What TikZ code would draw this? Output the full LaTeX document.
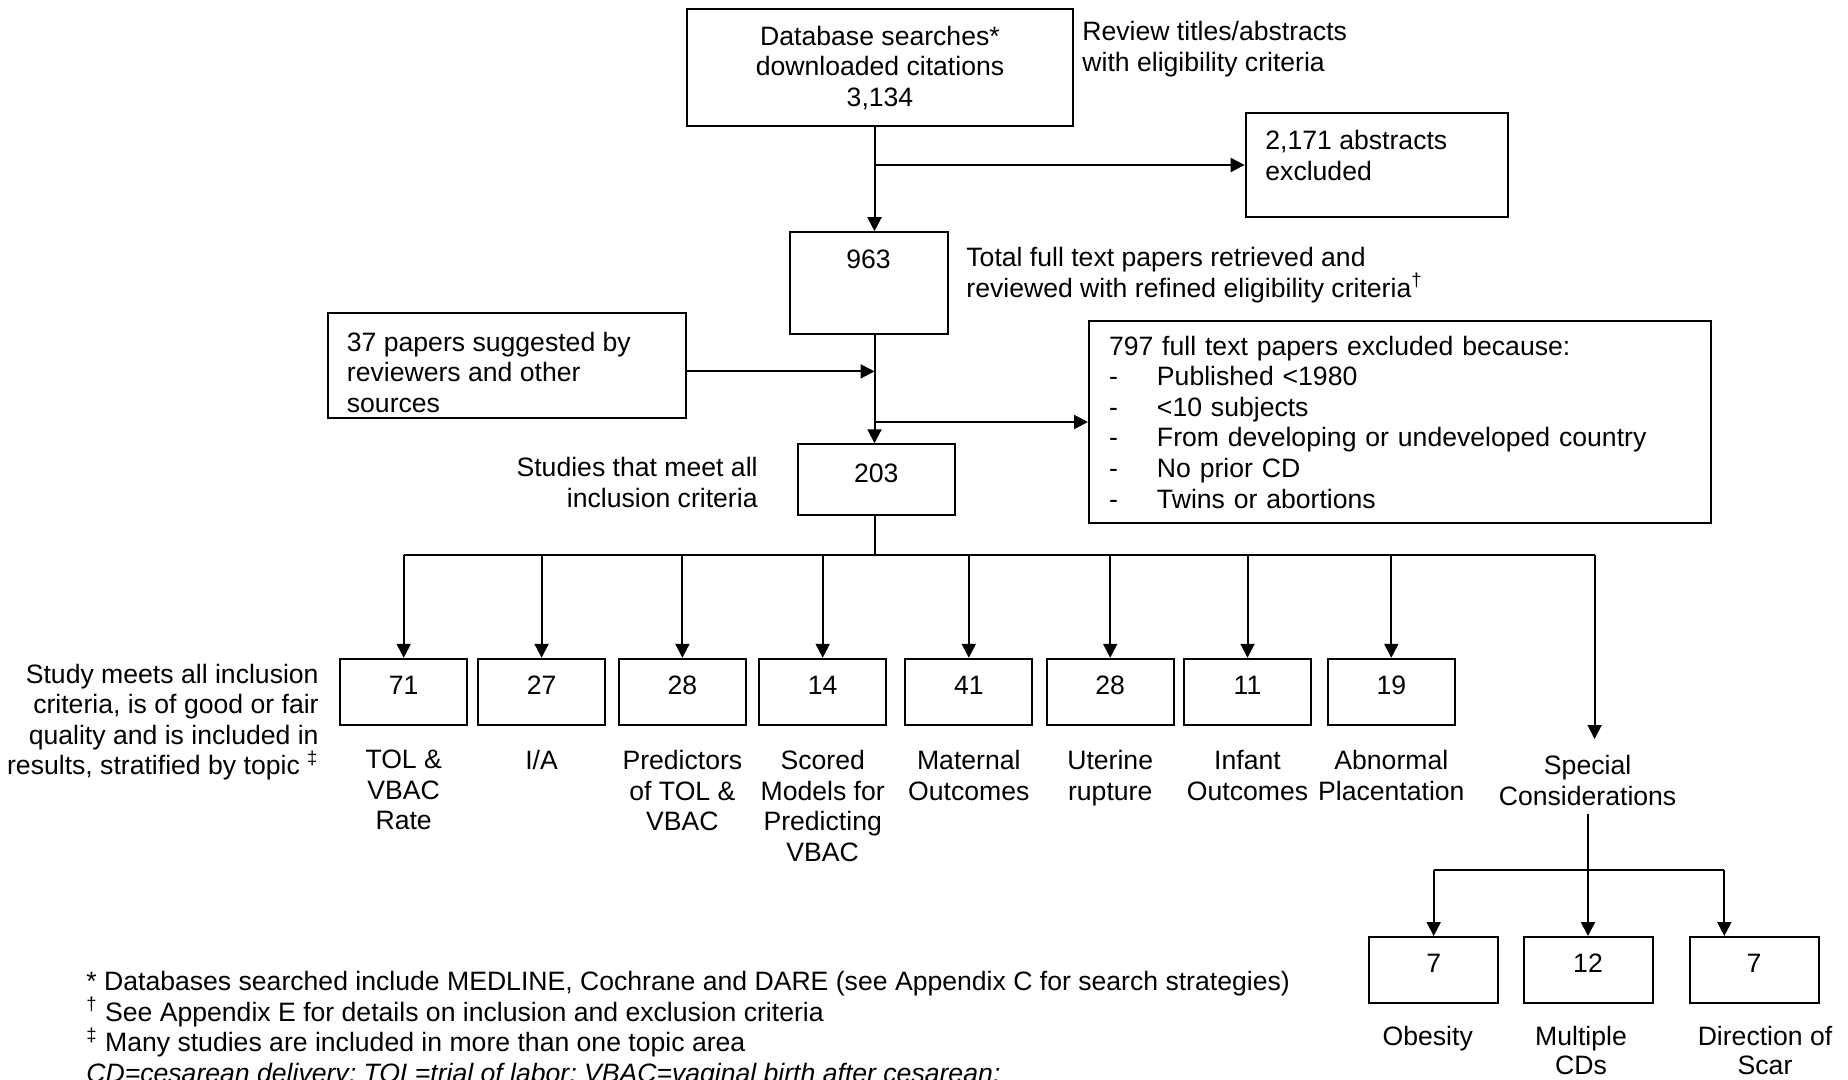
\documentclass[tikz,border=0pt]{standalone}
\usepackage{fontspec}
\setmainfont{Liberation Sans}
\usetikzlibrary{arrows.meta,positioning}
\newcommand{\exitem}{\makebox[24pt][l]{-}}

\begin{document}
\begin{tikzpicture}[x=0.5pt,y=-0.5pt,
  font=\fontsize{13.3}{15.3}\selectfont,
  box/.style={draw=black,line width=1pt,inner sep=0pt,align=center},
  numbox/.style={box,minimum width=63.5pt,text height=17.7pt,text depth=15.3pt},
  txt/.style={inner sep=0pt,align=center},
  rel/.style={draw=black,line width=1pt},
  arrw/.style={rel,-{Triangle[length=7pt,width=7pt]}}]
\useasboundingbox (0,0) rectangle (1848,1080);

\coordinate (spine) at (874.5,0);
\coordinate (bus) at (874.5,555);
\coordinate (busr) at (1594.6,555);
\coordinate (split) at (1591,870);
\coordinate (scarin) at (1724.3,870);

\node[box,minimum width=192.8pt,minimum height=58.3pt] (db) at (880,67.7)
  {Database searches*\\downloaded citations\\3,134};
\node[txt,align=left,anchor=north west] (review) at (1082,21)
  {Review titles/abstracts\\with eligibility criteria};
\node[box,minimum width=131.4pt,minimum height=52pt] (exc1) at (1377,165) {};
\node[txt,align=left,anchor=north west] (exc1t) at (1265,130)
  {2,171 abstracts\\excluded};
\node[box,minimum width=79pt,text height=18pt,text depth=32.7pt] (full) at (868.6,282.9) {963};
\node[txt,align=left,anchor=north west] (fullt) at (966,247)
  {Total full text papers retrieved and\\reviewed with refined eligibility criteria\textsuperscript{\textdagger}};
\node[box,minimum width=179.2pt,minimum height=52.5pt] (sugg) at (507,366) {};
\node[txt,align=left,anchor=north west] (suggt) at (346.5,331.5)
  {37 papers suggested by\\reviewers and other\\sources};
\coordinate (suggout) at ([yshift=-2.7pt]sugg.east);
\node[box,minimum width=311pt,minimum height=101pt,text width=291pt,align=left] (exc2) at (1400,422)
  {797 full text papers excluded because:\\
   \exitem Published <1980\\
   \exitem <10 subjects\\
   \exitem From developing or undeveloped country\\
   \exitem No prior CD\\
   \exitem Twins or abortions};
\node[box,minimum width=78.4pt,text height=18.9pt,text depth=16.5pt] (incl) at (876.3,479.7) {203};
\node[txt,align=right,anchor=north east] (inclt) at (758,457)
  {Studies that meet all\\inclusion criteria};

\node[txt,align=right,anchor=north east] (qual) at (319,663.5)
  {Study meets all inclusion\\criteria, is of good or fair\\quality and is included in\\results, stratified by topic \textsuperscript{\textdaggerdbl}};

\node[numbox] (tol) at (403.7,691.8) {71};
\node[numbox] (ia) at (541.6,691.8) {27};
\node[numbox] (prd) at (682.4,691.8) {28};
\node[numbox] (scm) at (822.7,691.8) {14};
\node[numbox] (mat) at (968.8,691.8) {41};
\node[numbox] (rup) at (1110.2,691.8) {28};
\node[numbox] (inf) at (1247.5,691.8) {11};
\node[numbox] (plc) at (1391.3,691.8) {19};
\node[txt,below=12pt of tol] (tolt) {TOL \&\\VBAC\\Rate};
\node[txt,below=12pt of ia] (iat) {I/A};
\node[txt,below=12pt of prd] (prdt) {Predictors\\of TOL \&\\VBAC};
\node[txt,below=12pt of scm] (scmt) {Scored\\Models for\\Predicting\\VBAC};
\node[txt,below=12pt of mat] (matt) {Maternal\\Outcomes};
\node[txt,below=12pt of rup] (rupt) {Uterine\\rupture};
\node[txt,below=12pt of inf] (inft) {Infant\\Outcomes};
\node[txt,below=12pt of plc] (plct) {Abnormal\\Placentation};
\node[txt,inner ysep=8pt,anchor=north] (spec) at (1587.6,739) {Special\\Considerations};

\node[numbox,minimum width=64.5pt] (obes) at (1433.7,970) {7};
\node[numbox,minimum width=64.5pt] (mult) at (1588,970) {12};
\node[numbox,minimum width=64.5pt] (scar) at (1754,970) {7};
\node[txt,below=11pt of obes,xshift=-3pt] (obest) {Obesity};
\node[txt,below=11pt of mult,xshift=-3.5pt,font=\fontsize{13.3}{14.6}\selectfont] (multt) {Multiple\\CDs};
\node[txt,below=11pt of scar,xshift=5.5pt,font=\fontsize{13.3}{14.6}\selectfont] (scart) {Direction of\\Scar};

\node[txt,align=left,anchor=north west] (notes) at (86,971)
  {* Databases searched include MEDLINE, Cochrane and DARE (see Appendix C for search strategies)\\
   \textsuperscript{\textdagger} See Appendix E for details on inclusion and exclusion criteria\\
   \textsuperscript{\textdaggerdbl} Many studies are included in more than one topic area\\
   \textit{CD=cesarean delivery; TOL=trial of labor; VBAC=vaginal birth after cesarean;}};

\draw[arrw] (db.south -| spine) -- (full.north -| spine);
\draw[arrw] (spine |- exc1.west) -- (exc1.west);
\draw[arrw] (suggout) -- (suggout -| spine);
\draw[arrw] (full.south -| spine) -- (incl.north -| spine);
\draw[arrw] (spine |- exc2.west) -- (exc2.west);
\draw[rel] (incl.south -| spine) -- (bus);
\draw[rel] (tol.north |- bus) -- (busr);
\draw[arrw] (tol.north |- bus) -- (tol.north);
\draw[arrw] (ia.north |- bus) -- (ia.north);
\draw[arrw] (prd.north |- bus) -- (prd.north);
\draw[arrw] (scm.north |- bus) -- (scm.north);
\draw[arrw] (mat.north |- bus) -- (mat.north);
\draw[arrw] (rup.north |- bus) -- (rup.north);
\draw[arrw] (inf.north |- bus) -- (inf.north);
\draw[arrw] (plc.north |- bus) -- (plc.north);
\draw[arrw] (busr) -- (busr |- spec.north);
\draw[rel] ([yshift=4pt]spec.south) -- (spec.south |- split);
\draw[rel] (obes.north |- split) -- (scarin);
\draw[arrw] (obes.north |- split) -- (obes.north);
\draw[arrw] (mult.north |- split) -- (mult.north);
\draw[arrw] (scarin) -- (scarin |- scar.north);
\end{tikzpicture}
\end{document}
